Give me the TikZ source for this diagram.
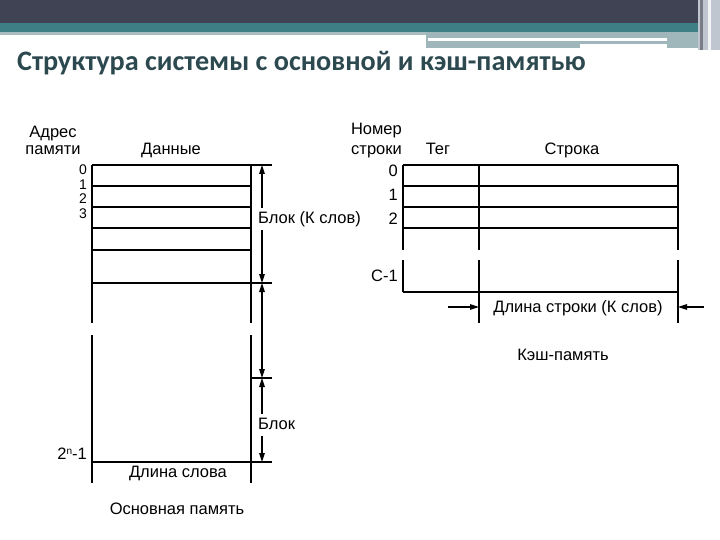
\documentclass[tikz,border=0pt]{standalone}
\usepackage{fontspec}
\setmainfont{Liberation Sans}
\newfontfamily\titlefont{Carlito}
\usetikzlibrary{arrows.meta}
\definecolor{hdrdark}{HTML}{3F4353}
\definecolor{hdrteal}{HTML}{3E7E85}
\definecolor{hdrlight}{HTML}{A9BDC1}
\definecolor{hdrmid}{HTML}{9FB6BA}
\definecolor{hdrside}{HTML}{BFC6CF}
\definecolor{titlecol}{HTML}{2D4950}
\begin{document}
\begin{tikzpicture}[x=1pt,y=-1pt,
  grid/.style={line width=2pt},
  lbl/.style={font=\fontsize{16.5}{16.5}\selectfont, inner sep=0pt, text height=11.5pt, text depth=3pt},
  digit/.style={font=\fontsize{14}{14}\selectfont, inner sep=0pt, text height=10pt, text depth=0pt, anchor=east},
  dimarrow/.style={line width=1.2pt, -{Triangle[length=9pt,width=5.5pt]}},
  dimboth/.style={line width=1.2pt, {Triangle[length=9pt,width=5.5pt]}-{Triangle[length=9pt,width=5.5pt]}}]
\useasboundingbox (0,0) rectangle (720,540);
% header
\fill[hdrdark] (0,0) rectangle (720,23);
\fill[hdrteal] (0,23) rectangle (700,32);
\fill[hdrlight] (0,32) rectangle (426,35);
\fill[hdrmid] (426,32) rectangle (700,48);
\fill[white] (428,38) rectangle (667,41);
\fill[white] (580,44) rectangle (667,48);
\fill[hdrside] (698,0) rectangle (720,50);
\fill[hdrdark!70] (700,0) rectangle (703,50);
\fill[white!80!hdrside] (708,0) rectangle (711,50);
% title
\node[anchor=base west, inner sep=0pt, font=\titlefont\bfseries\fontsize{28.2}{28.2}\selectfont, text=titlecol] (title) at (17,71) {Структура системы с основной и кэш-памятью};

% ---------- main memory ----------
\draw[grid] (92,165) -- (272,165);
\foreach \yy in {186,207,228,250} \draw[grid] (92,\yy) -- (251,\yy);
\draw[grid] (92,283) -- (272,283);
\draw[grid] (251,378) -- (272,378);
\draw[grid] (92,462) -- (272,462);
\draw[grid] (92,165) -- (92,323) (92,335) -- (92,483);
\draw[grid] (251,165) -- (251,323) (251,335) -- (251,483);
\coordinate (m0) at (262,165);
\coordinate (m1) at (262,283);
\coordinate (m2) at (262,378);
\coordinate (m3) at (262,462);
\draw[dimboth] (m0) -- (m1);
\draw[dimboth] (m1) -- (m2);
\draw[dimboth] (m2) -- (m3);
\node[lbl, anchor=west, fill=white, inner xsep=1pt, inner ysep=4pt] (blk1) at (257,219) {Блок (К слов)};
\node[lbl, anchor=west, fill=white, inner xsep=1pt, inner ysep=4pt] (blk2) at (257,425) {Блок};

\node[lbl] (adr1) at (53,133) {Адрес};
\node[lbl] (adr2) at (53,150) {памяти};
\node[lbl] (data) at (171,150) {Данные};
\node[digit] (a0) at (87,170) {0};
\node[digit] (a1) at (87,184.5) {1};
\node[digit] (a2) at (87,199) {2};
\node[digit] (a3) at (87,213.5) {3};
\node[lbl, anchor=east] (an) at (87,455) {2\raisebox{5pt}{\fontsize{10}{10}\selectfont n}-1};
\node[lbl] (wlen) at (178,473) {Длина слова};
\node[lbl] (mainlbl) at (177,510) {Основная память};

% ---------- cache ----------
\foreach \yy in {165,186,207,228,292} \draw[grid] (403,\yy) -- (678,\yy);
\draw[grid] (403,165) -- (403,250) (403,260) -- (403,292);
\draw[grid] (479,165) -- (479,250) (479,260) -- (479,323);
\draw[grid] (678,165) -- (678,250) (678,260) -- (678,323);
\coordinate (c0) at (448,307);
\coordinate (c1) at (479,307);
\coordinate (c2) at (704,307);
\coordinate (c3) at (678,307);
\draw[dimarrow] (c0) -- (c1);
\draw[dimarrow] (c2) -- (c3);

\node[lbl, anchor=east] (nom1) at (402,130) {Номер};
\node[lbl, anchor=east] (nom2) at (402,150) {строки};
\node[lbl] (teg) at (438,150) {Тег};
\node[lbl] (str) at (572,150) {Строка};
\node[lbl, anchor=east] (r0) at (398,172) {0};
\node[lbl, anchor=east] (r1) at (398,196) {1};
\node[lbl, anchor=east] (r2) at (398,220) {2};
\node[lbl, anchor=east] (rc) at (398,277) {C-1};
\node[lbl] (llen) at (578,308) {Длина строки (К слов)};
\node[lbl] (cachelbl) at (563,356) {Кэш-память};
\end{tikzpicture}
\end{document}
